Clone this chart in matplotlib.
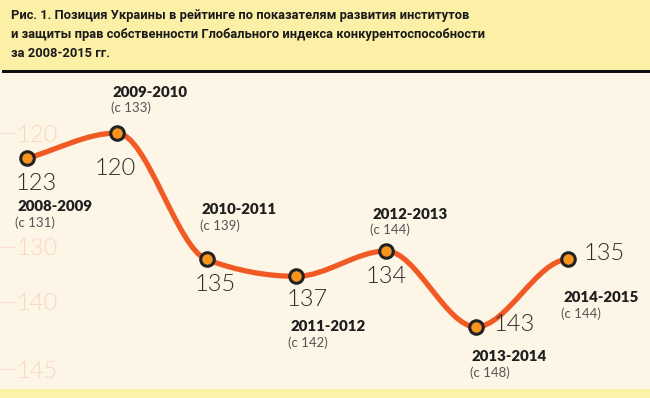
import numpy as np
import matplotlib
matplotlib.use("Agg")
import matplotlib.pyplot as plt
from matplotlib.path import Path
from matplotlib.patches import PathPatch, Rectangle

# data
seasons = ["2008-2009", "2009-2010", "2010-2011", "2011-2012",
           "2012-2013", "2013-2014", "2014-2015"]
ranks = [123, 120, 135, 137, 134, 143, 135]
totals = [131, 133, 139, 142, 144, 148, 144]
tick_vals = [120, 133.5, 140, 148]
tick_labels = ["120", "130", "140", "145"]

title = ("Рис. 1. Позиция Украины в рейтинге по показателям развития институтов\n"
         "и защиты прав собственности Глобального индекса конкурентоспособности\n"
         "за 2008-2015 гг.")

LINE = "#F15A24"
DOT = "#F7941D"
TXT = "#2b2b2b"

W, H = 650, 398
fig = plt.figure(figsize=(W / 100, H / 100), dpi=100)
fig.patch.set_facecolor("#FDF5E6")

# background bands (title band, rule, bottom strip)
fig.patches.append(Rectangle((0, 1 - 70 / H), 1, 70 / H, transform=fig.transFigure,
                             facecolor="#FCEFA6", edgecolor="none", zorder=0))
fig.patches.append(Rectangle((2 / W, 1 - 73 / H), 1, 3 / H, transform=fig.transFigure,
                             facecolor="#111111", edgecolor="none", zorder=1))
fig.patches.append(Rectangle((0, 0), 1, 9 / H, transform=fig.transFigure,
                             facecolor="#FCF2A8", edgecolor="none", zorder=0))

fig.text(11 / W, 1 - 9 / H, title, ha="left", va="top", fontsize=9.3,
         fontweight="bold", color="#1a1a1a", linespacing=1.62,
         family=["Roboto", "DejaVu Sans"])

# main axes covering whole figure, mapped so points land like the original
ax = fig.add_axes([0, 0, 1, 1])
ax.set_facecolor("none")
px_x = 89.8   # pixels per season
px_y = 8.43   # pixels per rank
x0, y0 = 27, 133  # pixel position of index 0 / rank 120
ax.set_xlim(-x0 / px_x, (W - x0) / px_x)
ax.set_ylim(120 + (H - y0) / px_y, 120 - y0 / px_y)
for s in ax.spines.values():
    s.set_visible(False)
ax.set_xticks([])

ax.set_yticks(tick_vals)
ax.set_yticklabels(tick_labels)
ax.tick_params(axis="y", direction="in", length=11, width=0.8, color="#FADFCF",
               pad=-12, labelcolor="#F9D6C2", labelsize=17)
for lab in ax.get_yticklabels():
    lab.set_horizontalalignment("left")
    lab.set_family("Lato")
    lab.set_fontweight(300)

# smooth monotone line through the points (cubic Bezier segments)
xs = np.arange(len(ranks), dtype=float)
xs[-1] = (568 - x0) / px_x
ys = np.array(ranks, dtype=float)
n = len(xs)
sec = np.diff(ys) / np.diff(xs)
tang = np.zeros(n)
tang[0] = sec[0]
tang[-1] = 0.0
for i in range(1, n - 1):
    if sec[i - 1] * sec[i] > 0:
        h0, h1 = xs[i] - xs[i - 1], xs[i + 1] - xs[i]
        p = (sec[i - 1] * h1 + sec[i] * h0) / (h0 + h1)
        tang[i] = np.sign(sec[i]) * min(abs(sec[i - 1]), abs(sec[i]), 0.5 * abs(p)) * 2
verts = [(xs[0], ys[0])]
codes = [Path.MOVETO]
for i in range(n - 1):
    d = (xs[i + 1] - xs[i]) / 3
    verts += [(xs[i] + d, ys[i] + d * tang[i]),
              (xs[i + 1] - d, ys[i + 1] - d * tang[i + 1]),
              (xs[i + 1], ys[i + 1])]
    codes += [Path.CURVE4] * 3
ax.add_patch(PathPatch(Path(verts, codes), facecolor="none", edgecolor=LINE,
                       lw=3.8, capstyle="round", joinstyle="round", zorder=3))
ax.scatter(xs, ys, s=95, color=DOT, edgecolors="#222222", linewidths=2.2, zorder=4)

# labels: offsets in pixels (dx, dy) for value, season, total
val_off = [(9, 25, "center"), (-2, 35, "center"), (9, 25, "center"), (11, 23, "center"),
           (0, 25, "center"), (18, -2, "left"), (16, -6, "left")]
season_off = [(-10, 48), (-4, -41), (-5, -50), (-6, 50), (-14, -37), (-4, 30), (-5, 38)]


def px(dx, dy):
    # convert a pixel offset into data units
    return dx / px_x, dy / px_y


for i, (r, season, tot) in enumerate(zip(ranks, seasons, totals)):
    dx, dy, ha = val_off[i]
    ox, oy = px(dx, dy)
    ax.text(xs[i] + ox, r + oy, str(r), ha=ha, va="center", fontsize=17,
            color=TXT, family="Lato", fontweight=300, zorder=5)
    sx, sy = px(*season_off[i])
    ax.text(xs[i] + sx, r + sy, season, ha="left", va="center", fontsize=10.8,
            fontweight="heavy", color="#1f1f1f", family="Lato", zorder=5)
    cx, cy = px(season_off[i][0] - 2, season_off[i][1] + 16)
    ax.text(xs[i] + cx, r + cy, "(c %d)" % tot, ha="left", va="center",
            fontsize=9.5, color="#555555", family="Lato", zorder=5)

fig.savefig("out.png", dpi=100, facecolor=fig.get_facecolor())
